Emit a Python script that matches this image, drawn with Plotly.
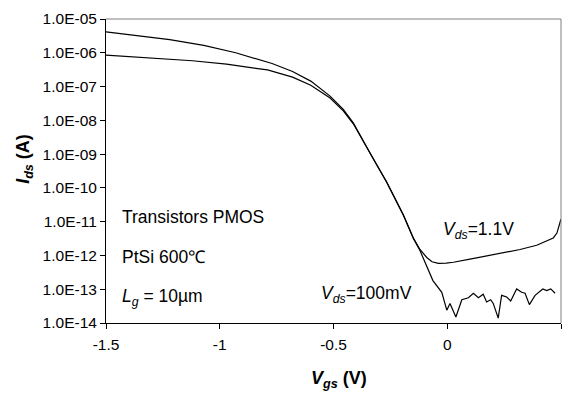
import plotly.graph_objects as go

# Vds = 1.1 V curve
vgs_hi = [-1.5, -1.35, -1.22, -1.07, -0.93, -0.77, -0.68, -0.60, -0.515, -0.457, -0.413, -0.34,
          -0.266, -0.193, -0.149, -0.12, -0.09, -0.067, -0.039, -0.005, 0.027, 0.1, 0.173,
          0.246, 0.32, 0.393, 0.466, 0.482, 0.5]
ids_hi = [4.17e-6, 3.09e-6, 2.45e-6, 1.66e-6, 1.0e-6, 4.8e-7, 2.8e-7, 1.45e-7, 5.2e-8, 2.1e-8,
          8.5e-9, 1.1e-9, 1.5e-10, 1.6e-11, 3.3e-12, 1.5e-12, 8.7e-13, 6.5e-13, 5.8e-13, 5.9e-13,
          6.3e-13, 7.8e-13, 9.8e-13, 1.2e-12, 1.5e-12, 2.0e-12, 3.3e-12, 4.6e-12, 1.2e-11]

# Vds = 100 mV curve
vgs_lo = [-1.5, -1.26, -1.12, -0.97, -0.79, -0.68, -0.60, -0.515, -0.457, -0.413, -0.34, -0.266,
          -0.193, -0.149, -0.12, -0.063, -0.024, -0.002, 0.012, 0.038, 0.064, 0.093, 0.115,
          0.137, 0.158, 0.173, 0.191, 0.202, 0.224, 0.239, 0.261, 0.279, 0.305, 0.327, 0.342,
          0.361, 0.386, 0.42, 0.437, 0.455, 0.474]
ids_lo = [8.5e-7, 6.8e-7, 5.8e-7, 4.6e-7, 3.1e-7, 1.9e-7, 1.1e-7, 4.6e-8, 1.9e-8, 7.9e-9,
          1.07e-9, 1.45e-10, 1.55e-11, 3.2e-12, 1.4e-12, 1.8e-13, 8.1e-14, 2.4e-14, 3.8e-14,
          1.5e-14, 4.9e-14, 5.6e-14, 7.6e-14, 5.6e-14, 7.1e-14, 4.2e-14, 4.9e-14, 3.8e-14,
          1.4e-14, 6.6e-14, 5.9e-14, 4.5e-14, 1.02e-13, 8.1e-14, 7.6e-14, 3.5e-14, 6.6e-14,
          1.02e-13, 9.1e-14, 1.02e-13, 7.6e-14]

y_tickvals = [1e-14, 1e-13, 1e-12, 1e-11, 1e-10, 1e-9, 1e-8, 1e-7, 1e-6, 1e-5]
y_ticktext = ["1.0E-14", "1.0E-13", "1.0E-12", "1.0E-11", "1.0E-10", "1.0E-09",
              "1.0E-08", "1.0E-07", "1.0E-06", "1.0E-05"]
x_tickvals = [-1.5, -1, -0.5, 0, 0.5]
x_ticktext = ["-1.5", "-1", "-0.5", "0", "0.5"]

FONT = "Liberation Sans, Arial, sans-serif"

fig = go.Figure()
fig.add_trace(go.Scatter(x=vgs_hi, y=ids_hi, mode="lines",
                         line=dict(color="black", width=1.2), showlegend=False))
fig.add_trace(go.Scatter(x=vgs_lo, y=ids_lo, mode="lines",
                         line=dict(color="black", width=1.2), showlegend=False))

fig.update_layout(
    width=571, height=394,
    margin=dict(l=106, r=10, t=15, b=71),
    paper_bgcolor="white", plot_bgcolor="white",
    font=dict(family=FONT, color="black"),
    xaxis=dict(range=[-1.5, 0.5], tickvals=x_tickvals, ticktext=x_ticktext,
               showgrid=False, zeroline=False, showline=True, linecolor="black", linewidth=1,
               ticks="outside", ticklen=5, tickcolor="black", tickfont=dict(size=15.5),
               ticklabelstandoff=2),
    yaxis=dict(type="log", range=[-14, -5], tickvals=y_tickvals, ticktext=y_ticktext,
               showgrid=False, zeroline=False, showline=True, linecolor="black", linewidth=1,
               ticks="outside", ticklen=5, tickcolor="black", tickfont=dict(size=15.5)),
    shapes=[
        dict(type="line", xref="paper", yref="paper", x0=0, x1=1, y0=1, y1=1,
             line=dict(color="#808080", width=1)),
        dict(type="line", xref="paper", yref="paper", x0=1, x1=1, y0=0, y1=1,
             line=dict(color="#808080", width=1)),
    ],
)

ann_font = dict(family=FONT, size=17.5, color="black")
annotations = [
    dict(text="Transistors PMOS", x=0.031, y=0.350),
    dict(text="PtSi 600℃", x=0.031, y=0.218),
    dict(text="<i>L</i><sub><i>g</i></sub> = 10µm", x=0.031, y=0.085),
    dict(text="<i>V</i><sub><i>ds</i></sub>=1.1V", x=0.736, y=0.305),
    dict(text="<i>V</i><sub><i>ds</i></sub>=100mV", x=0.468, y=0.093),
]
for a in annotations:
    fig.add_annotation(xref="paper", yref="paper", xanchor="left", yanchor="middle",
                       showarrow=False, font=ann_font, **a)

fig.add_annotation(text="<b><i>I</i><sub><i>ds</i></sub> (A)</b>", xref="paper", yref="paper",
                   x=-0.178, y=0.54, textangle=-90, showarrow=False,
                   xanchor="center", yanchor="middle",
                   font=dict(family=FONT, size=18, color="black"))
fig.add_annotation(text="<b><i>V</i><sub><i>gs</i></sub> (V)</b>", xref="paper", yref="paper",
                   x=0.512, y=-0.185, showarrow=False,
                   xanchor="center", yanchor="middle",
                   font=dict(family=FONT, size=18, color="black"))

fig.write_html("out.html", config={"displayModeBar": False},
               post_script="document.body.style.margin='0';")
